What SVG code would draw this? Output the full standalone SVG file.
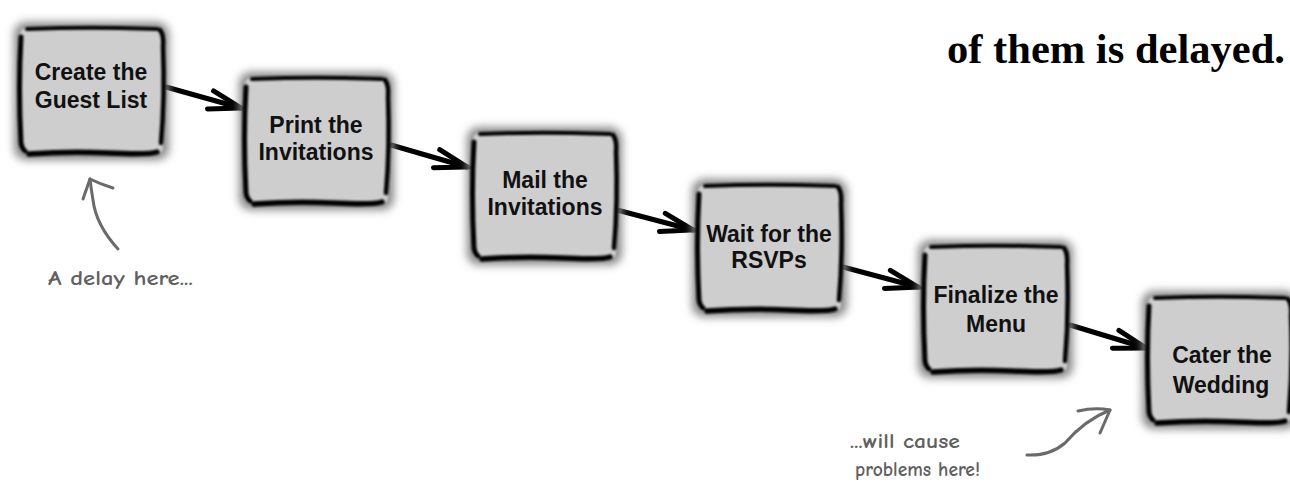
<svg xmlns="http://www.w3.org/2000/svg" width="1290" height="484" viewBox="0 0 1290 484">
<style>
.lbl{font-family:"Liberation Sans",Arial,sans-serif;font-weight:bold;font-size:23px;fill:#111;text-anchor:middle}
.note{font-family:"Comic Neue","DejaVu Sans","Liberation Sans",sans-serif;font-weight:bold;font-size:20px;fill:#606060}
.title{font-family:"Liberation Serif","Times New Roman",serif;font-weight:bold;font-size:42px;fill:#000}
.conn{stroke:#000;stroke-width:5;fill:none;stroke-linecap:round}
.gray{stroke:#6a6a6a;stroke-width:3;fill:none;stroke-linecap:round;stroke-linejoin:round}
.edge{stroke:#000;fill:none;stroke-linecap:round}
</style>
<defs>
<filter id="blur6" x="-20%" y="-20%" width="140%" height="140%"><feGaussianBlur stdDeviation="4"/></filter>
<filter id="blur1" x="-10%" y="-10%" width="120%" height="120%"><feGaussianBlur stdDeviation="1"/></filter>
<marker id="head" markerUnits="userSpaceOnUse" markerWidth="50" markerHeight="40" refX="44" refY="20" orient="auto" viewBox="0 0 50 40">
<path d="M13,11 L44,20 L12,30" fill="none" stroke="#000" stroke-width="5" stroke-linecap="round" stroke-linejoin="miter"/>
</marker>
<g id="box">
<rect x="-5" y="-5" width="155" height="138" rx="12" fill="#8a8a8a" filter="url(#blur6)"/>
<rect x="1" y="1" width="143" height="126" rx="6" fill="#cecece" filter="url(#blur1)"/>
<g filter="url(#blur1)">
<path class="edge" stroke-width="4" d="M8,2 Q60,0 100,1 T138,2"/>
<path class="edge" stroke-width="5" d="M2,10 Q-1,60 2,116 Q3,122 6,124"/>
<path class="edge" stroke-width="4.5" d="M141,3 Q145,8 144,20 Q146,70 142,116"/>
<path class="edge" stroke-width="5.5" d="M10,127 Q50,124 90,126 T138,125"/>
</g>
</g>
</defs>
<rect width="1290" height="484" fill="#fff"/>

<text class="title" x="947" y="63" textLength="338" lengthAdjust="spacingAndGlyphs">of them is delayed.</text>

<g id="connectors">
<path class="conn" marker-end="url(#head)" d="M166,87 L241,108"/>
<path class="conn" marker-end="url(#head)" d="M391,145 L467,167"/>
<path class="conn" marker-end="url(#head)" d="M617,210 L693,230"/>
<path class="conn" marker-end="url(#head)" d="M843,267 L918,287"/>
<path class="conn" marker-end="url(#head)" d="M1070,325 L1146,348"/>
</g>

<g id="n1"><use href="#box" x="19" y="27"/><text class="lbl" x="91" y="80">Create the</text><text class="lbl" x="91" y="108">Guest List</text></g>
<g id="n2"><use href="#box" x="244" y="77"/><text class="lbl" x="316" y="133">Print the</text><text class="lbl" x="316" y="160">Invitations</text></g>
<g id="n3"><use href="#box" x="472" y="132"/><text class="lbl" x="545" y="188">Mail the</text><text class="lbl" x="545" y="215">Invitations</text></g>
<g id="n4"><use href="#box" x="697" y="184"/><text class="lbl" x="769" y="242">Wait for the</text><text class="lbl" x="769" y="268">RSVPs</text></g>
<g id="n5"><use href="#box" x="923" y="245"/><text class="lbl" x="996" y="303">Finalize the</text><text class="lbl" x="996" y="332">Menu</text></g>
<g id="n6"><use href="#box" x="1147" y="296"/><text class="lbl" x="1222" y="363">Cater the</text><text class="lbl" x="1221" y="393">Wedding</text></g>

<g id="note1">
<path class="gray" d="M118,249 Q96,225 93,200 Q91,188 90,179"/>
<path class="gray" d="M83,199 L90,179 Q100,184 113,188"/>
<text class="note" x="48" y="285" textLength="145" lengthAdjust="spacingAndGlyphs">A delay here...</text>
</g>
<g id="note2">
<path class="gray" d="M1027,455 Q1050,456 1065,443 Q1085,420 1110,410"/>
<path class="gray" d="M1078,411 Q1095,407 1110,410 L1100,433"/>
<text class="note" x="850" y="448" textLength="110" lengthAdjust="spacingAndGlyphs">...will cause</text>
<text class="note" x="855" y="476" textLength="125" lengthAdjust="spacingAndGlyphs">problems here!</text>
</g>
</svg>
